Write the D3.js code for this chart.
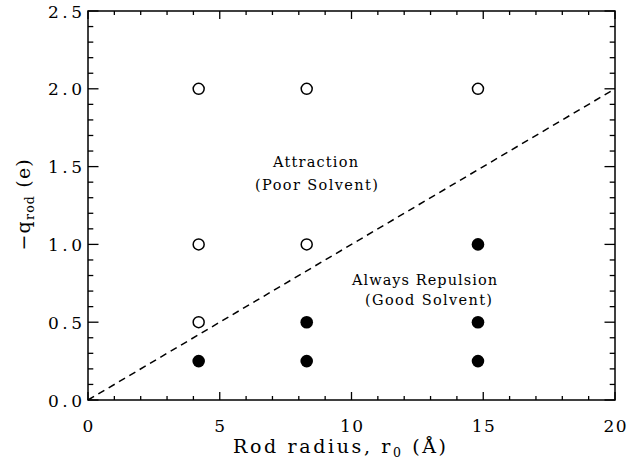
<!DOCTYPE html>
<html><head><meta charset="utf-8">
<script src="https://cdn.jsdelivr.net/npm/d3@7"></script>
<style>body{margin:0;background:#fff}svg{display:block}</style>
</head><body>
<svg id="c" width="629" height="464"></svg>
<script>
const openX = [4.2, 8.3, 14.8, 4.2, 8.3, 4.2];
const openY = [2.0, 2.0, 2.0, 1.0, 1.0, 0.5];
const filledX = [14.8, 8.3, 14.8, 4.2, 8.3, 14.8];
const filledY = [1.0, 0.5, 0.5, 0.25, 0.25, 0.25];
const lineX = [0, 20];
const lineY = [0, 2.0];
const xTicks = [0, 5, 10, 15, 20];
const yTicks = [0, 0.5, 1.0, 1.5, 2.0, 2.5];

const svg = d3.select("#c");
const L = 88, R = 615, T = 11, B = 400;
const x = d3.scaleLinear().domain([0, 20]).range([L, R]);
const y = d3.scaleLinear().domain([0, 2.5]).range([B, T]);
const font = "DejaVu Serif, serif";

// stretch a text's letter spacing so it spans a given width
function fit(sel, target) {
  sel.each(function() {
    const n = this.textContent.length;
    const w = this.getComputedTextLength();
    if (n < 2) return;
    const ls = (target - w) / (n - 1);
    const s = d3.select(this).attr("letter-spacing", ls);
    if (s.attr("text-anchor") === "middle") s.attr("dx", ls / 2);
    if (s.attr("text-anchor") === "end") s.attr("dx", ls);
  });
}

const xMinor = d3.range(0, 21, 1);
const yMinor = d3.range(0, 26, 1).map(d => d / 10);
const xMaj = 8, xMin = 4, yMaj = 10.5, yMin = 5.3;

const g = svg.append("g").attr("stroke", "#000").attr("stroke-width", 1.3);
xMinor.forEach(v => {
  const len = (v % 5 === 0) ? xMaj : xMin;
  g.append("line").attr("x1", x(v)).attr("x2", x(v)).attr("y1", B).attr("y2", B - len);
  g.append("line").attr("x1", x(v)).attr("x2", x(v)).attr("y1", T).attr("y2", T + len);
});
yMinor.forEach(v => {
  const len = (Math.round(v * 10) % 5 === 0) ? yMaj : yMin;
  g.append("line").attr("x1", L).attr("x2", L + len).attr("y1", y(v)).attr("y2", y(v));
  g.append("line").attr("x1", R).attr("x2", R - len).attr("y1", y(v)).attr("y2", y(v));
});
svg.append("rect").attr("x", L).attr("y", T).attr("width", R - L).attr("height", B - T)
  .attr("fill", "none").attr("stroke", "#000").attr("stroke-width", 1.5);

// tick labels
svg.selectAll(".xt").data(xTicks).enter().append("text").attr("class", "xt")
  .attr("x", d => x(d)).attr("y", 432).attr("text-anchor", "middle")
  .attr("font-family", font).attr("font-size", 17).text(d => d)
  .call(fit, 23);
svg.selectAll(".yt").data(yTicks).enter().append("text").attr("class", "yt")
  .attr("x", 82).attr("y", d => y(d) + 6.5).attr("text-anchor", "end")
  .attr("font-family", font).attr("font-size", 17).text(d => d.toFixed(1))
  .call(fit, 34);

// axis titles
const xt = svg.append("text").attr("x", 233).attr("y", 453)
  .attr("font-family", font).attr("font-size", 19);
xt.append("tspan").text("Rod radius, r");
xt.append("tspan").attr("font-size", 12.5).attr("dy", 4).text("0");
xt.append("tspan").attr("dy", -4).text(" (Å)");
{
  const n = xt.node().textContent.length, w = xt.node().getComputedTextLength();
  xt.attr("letter-spacing", (213 - w) / (n - 1));
}

const yt = svg.append("text").attr("transform", "translate(30,158) rotate(-90)")
  .attr("text-anchor", "end").attr("font-family", font).attr("font-size", 19)
  .attr("letter-spacing", 1.2);
yt.append("tspan").text("−q");
yt.append("tspan").attr("font-size", 12.5).attr("dy", 4).text("rod");
yt.append("tspan").attr("dy", -4).text(" (e)");

// dashed line
svg.append("path").datum(lineX.map((d, i) => [d, lineY[i]]))
  .attr("d", d3.line().x(d => x(d[0])).y(d => y(d[1])))
  .attr("fill", "none").attr("stroke", "#000").attr("stroke-width", 1.5)
  .attr("stroke-dasharray", "7,5");

// markers
svg.selectAll(".o").data(openX.map((d, i) => [d, openY[i]])).enter().append("circle")
  .attr("cx", d => x(d[0])).attr("cy", d => y(d[1])).attr("r", 5.5)
  .attr("fill", "#fff").attr("stroke", "#000").attr("stroke-width", 1.5);
svg.selectAll(".f").data(filledX.map((d, i) => [d, filledY[i]])).enter().append("circle")
  .attr("cx", d => x(d[0])).attr("cy", d => y(d[1])).attr("r", 6.3)
  .attr("fill", "#000");

// annotations
const ann = [["Attraction", 273, 167, 85], ["(Poor Solvent)", 255, 190, 123],
             ["Always Repulsion", 352, 285, 145], ["(Good Solvent)", 365, 305, 127]];
svg.selectAll(".a").data(ann).enter().append("text").attr("class", "a")
  .attr("x", d => d[1]).attr("y", d => d[2])
  .attr("font-family", font).attr("font-size", 14.5).text(d => d[0])
  .each(function(d) {
    const n = this.textContent.length, w = this.getComputedTextLength();
    d3.select(this).attr("letter-spacing", (d[3] - w) / (n - 1));
  });
</script>
</body></html>
